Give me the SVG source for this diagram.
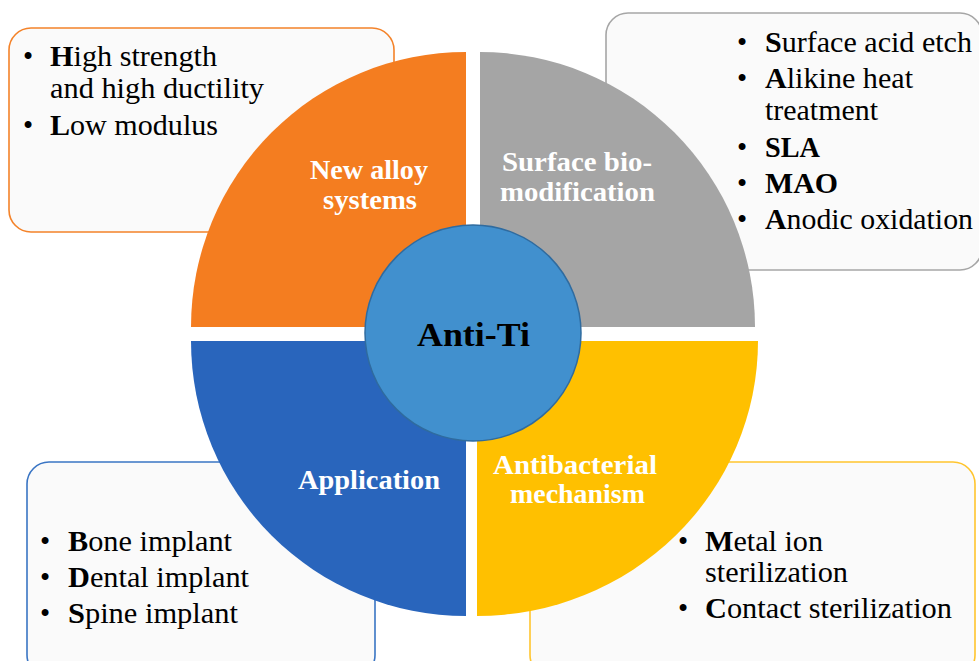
<svg xmlns="http://www.w3.org/2000/svg" width="979" height="661" viewBox="0 0 979 661">
<style>
.box{fill:#FAFAFA;stroke-width:1.6}
.t{font-family:"Liberation Serif","Times New Roman",serif;font-size:29px;fill:#000}
.b{font-weight:bold}
.lbl{font-family:"Liberation Serif","Times New Roman",serif;font-size:27px;font-weight:bold;fill:#FFFFFF}
.ctr{font-family:"Liberation Serif","Times New Roman",serif;font-size:34px;font-weight:bold;fill:#000}
</style>
<rect width="979" height="661" fill="#FFFFFF"/>
<g id="box-alloy">
<rect class="box" x="9" y="28" width="385" height="204" rx="22" stroke="#F4832A"/>
<text class="t" x="23" y="66">•</text>
<text class="t" x="50" y="66" textLength="167" lengthAdjust="spacingAndGlyphs"><tspan class="b">H</tspan>igh strength</text>
<text class="t" x="50" y="98" textLength="214" lengthAdjust="spacingAndGlyphs">and high ductility</text>
<text class="t" x="23" y="135">•</text>
<text class="t" x="50" y="135" textLength="168" lengthAdjust="spacingAndGlyphs"><tspan class="b">L</tspan>ow modulus</text>
</g>
<g id="box-surface">
<rect class="box" x="606" y="13" width="376" height="257" rx="22" stroke="#A6A6A6"/>
<text class="t" x="737" y="52">•</text>
<text class="t" x="765" y="52" textLength="207" lengthAdjust="spacingAndGlyphs"><tspan class="b">S</tspan>urface acid etch</text>
<text class="t" x="737" y="88">•</text>
<text class="t" x="765" y="88" textLength="148" lengthAdjust="spacingAndGlyphs"><tspan class="b">A</tspan>likine heat</text>
<text class="t" x="765" y="120" textLength="113" lengthAdjust="spacingAndGlyphs">treatment</text>
<text class="t" x="737" y="157">•</text>
<text class="t b" x="765" y="157" textLength="55" lengthAdjust="spacingAndGlyphs">SLA</text>
<text class="t" x="737" y="193">•</text>
<text class="t b" x="765" y="193" textLength="73" lengthAdjust="spacingAndGlyphs">MAO</text>
<text class="t" x="737" y="229">•</text>
<text class="t" x="765" y="229" textLength="208" lengthAdjust="spacingAndGlyphs"><tspan class="b">A</tspan>nodic oxidation</text>
</g>
<g id="box-application">
<rect class="box" x="27" y="462" width="348" height="215" rx="22" stroke="#3A75C4"/>
<text class="t" x="40" y="551">•</text>
<text class="t" x="68" y="551" textLength="164" lengthAdjust="spacingAndGlyphs"><tspan class="b">B</tspan>one implant</text>
<text class="t" x="40" y="587">•</text>
<text class="t" x="68" y="587" textLength="181" lengthAdjust="spacingAndGlyphs"><tspan class="b">D</tspan>ental implant</text>
<text class="t" x="40" y="623">•</text>
<text class="t" x="68" y="623" textLength="170" lengthAdjust="spacingAndGlyphs"><tspan class="b">S</tspan>pine implant</text>
</g>
<g id="box-antibacterial">
<rect class="box" x="530" y="462" width="445" height="215" rx="22" stroke="#FFC52E"/>
<text class="t" x="678" y="551">•</text>
<text class="t" x="705" y="551" textLength="118" lengthAdjust="spacingAndGlyphs"><tspan class="b">M</tspan>etal ion</text>
<text class="t" x="705" y="582" textLength="143" lengthAdjust="spacingAndGlyphs">sterilization</text>
<text class="t" x="678" y="618">•</text>
<text class="t" x="705" y="618" textLength="247" lengthAdjust="spacingAndGlyphs"><tspan class="b">C</tspan>ontact sterilization</text>
</g>
<g id="connectors"></g>
<g id="q-alloy">
<path d="M466,327 L191,327 A275,275 0 0 1 466,52 Z" fill="#F47D20"/>
<text class="lbl" x="310" y="179" textLength="118" lengthAdjust="spacingAndGlyphs">New alloy</text>
<text class="lbl" x="323" y="209" textLength="94" lengthAdjust="spacingAndGlyphs">systems</text>
</g>
<g id="q-surface">
<path d="M480,327 L480,52 A275,275 0 0 1 755,327 Z" fill="#A5A5A5"/>
<text class="lbl" x="502" y="171" textLength="150" lengthAdjust="spacingAndGlyphs">Surface bio-</text>
<text class="lbl" x="500" y="201" textLength="155" lengthAdjust="spacingAndGlyphs">modification</text>
</g>
<g id="q-application">
<path d="M466,341 L466,616 A275,275 0 0 1 191,341 Z" fill="#2965BC"/>
<text class="lbl" x="298" y="489" textLength="142" lengthAdjust="spacingAndGlyphs">Application</text>
</g>
<g id="q-antibacterial">
<path d="M477,341 L758,341 A281,275 0 0 1 477,616 Z" fill="#FFC000"/>
<text class="lbl" x="493" y="474" textLength="164" lengthAdjust="spacingAndGlyphs">Antibacterial</text>
<text class="lbl" x="510" y="503" textLength="135" lengthAdjust="spacingAndGlyphs">mechanism</text>
</g>
<g id="center">
<circle cx="473" cy="333" r="108" fill="#4190CE" stroke="#2F6B9F" stroke-width="1.5"/>
<text class="ctr" x="417" y="346" textLength="113" lengthAdjust="spacingAndGlyphs">Anti-Ti</text>
</g>
</svg>
